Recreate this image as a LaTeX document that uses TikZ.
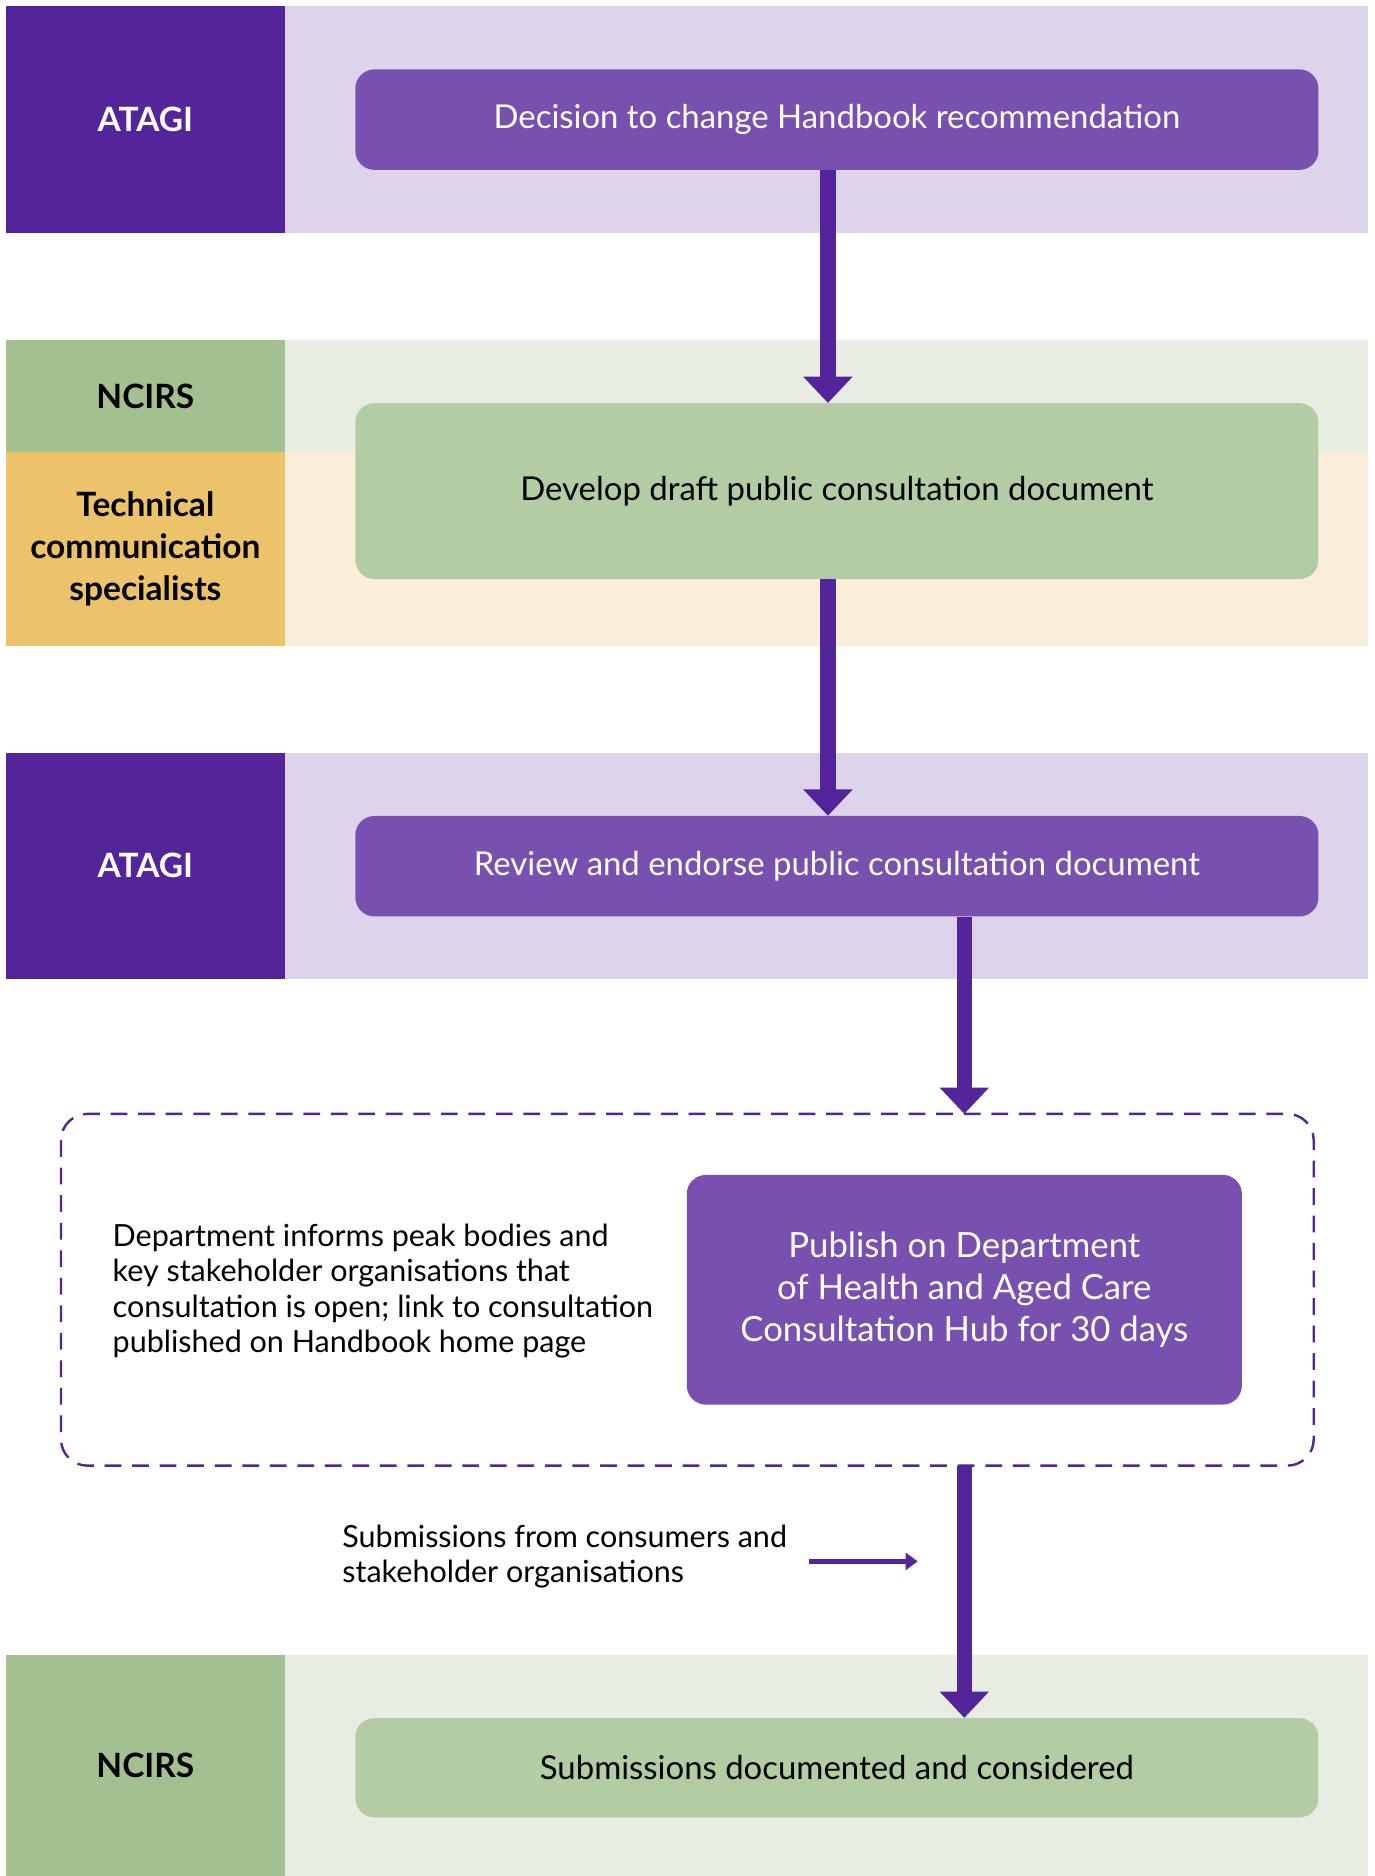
\documentclass[tikz,border=0pt]{standalone}
\usepackage{fontspec}
\setmainfont{Lato}
\usetikzlibrary{arrows.meta,positioning}
\definecolor{atagidark}{HTML}{53249A}
\definecolor{atagilight}{HTML}{DDD3EA}
\definecolor{atagibox}{HTML}{7851B0}
\definecolor{ncirsdark}{HTML}{A3C190}
\definecolor{ncirslight}{HTML}{E7EDE2}
\definecolor{ncirsbox}{HTML}{B4CCA3}
\definecolor{techdark}{HTML}{ECC36A}
\definecolor{techlight}{HTML}{FAEEDB}
\tikzset{
  lanelabel/.style={inner sep=0pt, minimum width=233pt, align=center,
    font=\fontsize{28}{35}\selectfont\bfseries},
  stepbox/.style={rounded corners=16pt, inner sep=0pt, minimum width=805pt,
    minimum height=84pt, align=center, font=\fontsize{27.5}{33}\selectfont},
  flow/.style={atagidark, line width=13pt, -{Triangle[width=40pt,length=22pt]}},
  note/.style={inner sep=0pt, align=left, font=\fontsize{25.5}{29.5}\selectfont}
}
\begin{document}
\begin{tikzpicture}[x=1pt,y=-1pt]
\useasboundingbox (0,0) rectangle (1149,1568);
% Swim lanes
\fill[atagilight] (238,5) rectangle (1143,195);
\fill[ncirslight] (238,284) rectangle (1143,378);
\fill[techlight] (238,378) rectangle (1143,540);
\fill[atagilight] (238,629) rectangle (1143,818);
\fill[ncirslight] (238,1383) rectangle (1143,1568);
\node[lanelabel, fill=atagidark, text=white, minimum height=190pt] (lane1) at (121.5,100) {ATAGI};
\node[lanelabel, fill=ncirsdark, minimum height=94pt] (lane2) at (121.5,331) {NCIRS};
\node[lanelabel, fill=techdark, minimum height=162pt] (lane3) at (121.5,459) {Technical\\communication\\specialists};
\node[lanelabel, fill=atagidark, text=white, minimum height=189pt] (lane4) at (121.5,723.5) {ATAGI};
\node[lanelabel, fill=ncirsdark, minimum height=185pt] (lane5) at (121.5,1475.5) {NCIRS};

% Steps
\node[stepbox, fill=atagibox, text=white] (decide) at (699.5,100) {Decision to change Handbook recommendation};
\node[stepbox, fill=ncirsbox, minimum height=147pt] (draft) at (699.5,410.5) {Develop draft public consultation document};
\node[stepbox, fill=atagibox, text=white] (review) at (699.5,724) {Review and endorse public consultation document};
\draw[atagidark, line width=2pt, dash pattern=on 14pt off 9pt, rounded corners=22pt]
  (51,931) rectangle (1098,1225);
\coordinate (consult) at (574.5,931);
\coordinate (consultend) at (574.5,1225);
\node[stepbox, fill=atagibox, text=white, minimum width=464pt, minimum height=192pt,
  font=\fontsize{29}{35}\selectfont] (publish) at (806,1078)
  {Publish on Department\\of Health and Aged Care\\Consultation Hub for 30 days};
\node[note, anchor=west] (inform) at (94,1079) {Department informs peak bodies and\\key stakeholder organisations that\\consultation is open; link to consultation\\published on Handbook home page};
\node[stepbox, fill=ncirsbox, minimum height=83pt] (consider) at (699.5,1477.5) {Submissions documented and considered};

% Submissions
\node[note, anchor=west] (subs) at (286,1301) {Submissions from consumers and\\stakeholder organisations};
\coordinate (subsin) at (767,1305);
\draw[atagidark, line width=4pt, -{Triangle[width=14pt,length=10pt]}] (676,0 |- subsin) coordinate (subsout) -- (subsin);

% Flow arrows
\draw[flow] (decide.south -| 692,0) -- (draft.north -| 692,0);
\draw[flow] (draft.south -| 692,0) -- (review.north -| 692,0);
\draw[flow] (review.south -| publish) -- (consult -| publish);
\draw[flow] (consultend -| publish) -- (consider.north -| publish);
\end{tikzpicture}
\end{document}
